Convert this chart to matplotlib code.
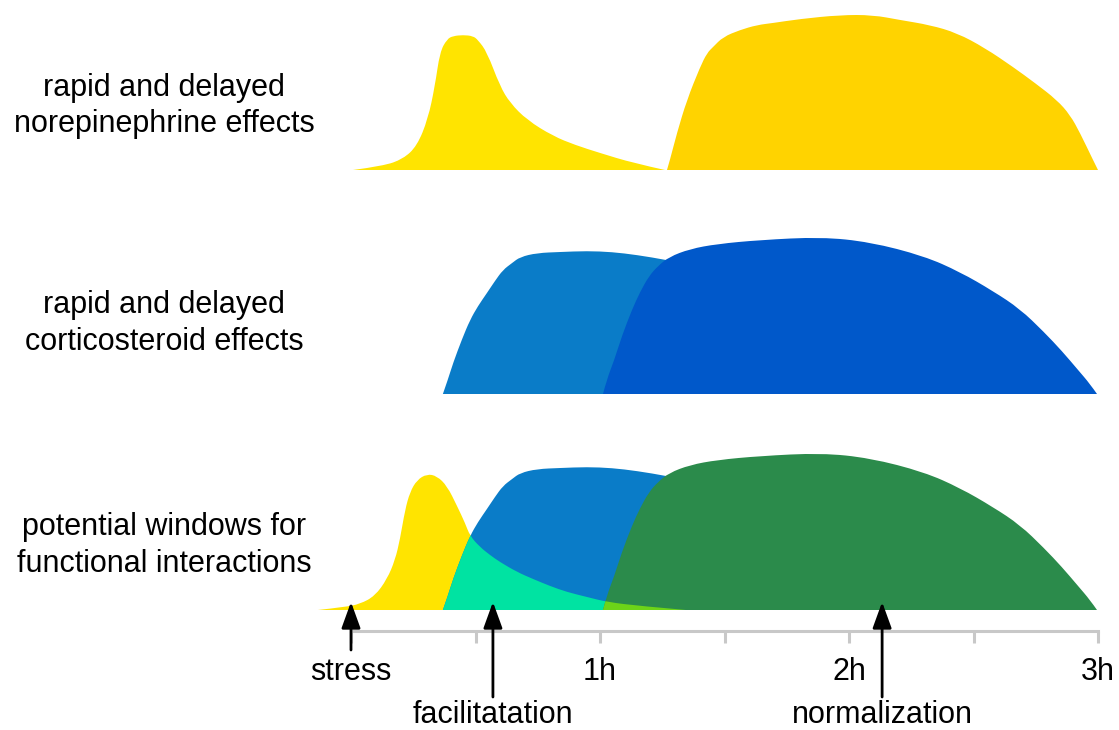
import matplotlib
matplotlib.use('Agg')
import matplotlib.pyplot as plt
from matplotlib.path import Path
from matplotlib.patches import PathPatch

plt.rcParams['font.family'] = ['Liberation Sans', 'DejaVu Sans']

# ---------------- data (time in hours, height in arbitrary units) ----------------
# rapid norepinephrine effect (row 1)
ne_rapid_t = [0.008, 0.129, 0.209, 0.265, 0.309, 0.337, 0.357, 0.386, 0.410, 0.450,
              0.490, 0.510, 0.546, 0.598, 0.639, 0.707, 0.811, 0.900, 1.000, 1.133, 1.261]
ne_rapid_h = [0, 4, 11, 24, 51, 84, 118, 131, 134, 135,
              134, 130, 118, 84, 67, 50, 34, 25, 17, 7, 0]

# delayed norepinephrine effect (row 1)
ne_delayed_t = [1.269, 1.281, 1.309, 1.349, 1.402, 1.430, 1.454, 1.494, 1.562, 1.631,
                1.695, 1.803, 1.964, 2.096, 2.205, 2.325, 2.434, 2.546, 2.659, 2.747,
                2.835, 2.888, 2.928, 2.980, 3.000]
ne_delayed_h = [0, 10, 37, 70, 103, 117, 123, 133, 140, 145,
                147, 151, 155, 155, 150, 145, 137, 122, 103, 87,
                70, 55, 37, 10, 0]

# rapid corticosteroid effect (rows 2 and 3)
cort_rapid_t = [0.369, 0.390, 0.410, 0.446, 0.478, 0.510, 0.546, 0.578, 0.610, 0.647,
                0.679, 0.747, 0.839, 0.948, 1.048, 1.149, 1.269, 1.402, 1.602, 1.803,
                2.004, 2.205, 2.365]
cort_rapid_h = [0, 15, 31, 55, 74, 88, 101, 113, 124, 131,
                137, 141, 142, 143, 142, 139, 134, 127, 112, 90,
                62, 30, 0]

# delayed corticosteroid effect (rows 2 and 3)
cort_delayed_t = [1.012, 1.028, 1.056, 1.088, 1.128, 1.161, 1.197, 1.233, 1.277, 1.361,
                  1.470, 1.643, 1.888, 2.084, 2.301, 2.446, 2.578, 2.687, 2.783, 2.855,
                  2.920, 2.968, 2.996]
cort_delayed_h = [0, 15, 33, 58, 84, 102, 118, 128, 137, 145,
                  150, 154, 157, 152, 138, 122, 103, 85, 62, 43,
                  24, 10, 0]

# rapid norepinephrine window in the interaction row (row 3)
ne_window_t = [-0.133, -0.024, 0.036, 0.096, 0.145, 0.177, 0.197, 0.217, 0.237, 0.265,
               0.305, 0.345, 0.386, 0.426, 0.458, 0.478, 0.518, 0.558, 0.598, 0.667,
               0.731, 0.799, 0.867, 0.948, 1.028, 1.161, 1.345]
ne_window_h = [0, 3, 6, 14, 31, 50, 71, 100, 118, 130,
               136, 134, 124, 104, 87, 74, 63, 55, 48, 38,
               31, 24, 18, 13, 8, 4, 0]

row_labels = [("rapid and delayed", "norepinephrine effects"),
              ("rapid and delayed", "corticosteroid effects"),
              ("potential windows for", "functional interactions")]

tick_times = [0, 0.5, 1, 1.5, 2, 2.5, 3]
tick_labels = ['stress', '', '1h', '', '2h', '', '3h']

marker_times = [0.570, 2.133]
marker_labels = ['facilitatation', 'normalization']

# ---------------- colours ----------------
C_YEL = '#FFE400'
C_YEL2 = '#FFD300'
C_LBLUE = '#0A7CC8'
C_DBLUE = '#0058CA'
C_GREEN = '#2B8B4B'
C_MINT = '#00E3A2'
C_LIME = '#6CD418'
C_AXIS = '#C8C8C8'

# ---------------- layout ----------------
W, H = 1119, 730
fig = plt.figure(figsize=(W / 100, H / 100), dpi=100)

x0_px, x3_px = 351, 1098
px_per_h = (x3_px - x0_px) / 3.0
xlim = (-x0_px / px_per_h, (W - x0_px) / px_per_h)

baselines = [170, 394, 610]
row_h = 170


def row_axes(base):
    ax = fig.add_axes([0, (H - base) / H, 1, row_h / H])
    ax.set_xlim(*xlim)
    ax.set_ylim(0, row_h)
    ax.axis('off')
    return ax


def smooth_shape(ax, t, h, color):
    """Closed shape whose outline is a smooth quadratic-Bezier curve guided by the profile points."""
    pts = list(zip(t, h))
    verts = [pts[0]]
    codes = [Path.MOVETO]
    for i in range(1, len(pts) - 1):
        nxt = pts[i + 1]
        mid = ((pts[i][0] + nxt[0]) / 2, (pts[i][1] + nxt[1]) / 2)
        if i == len(pts) - 2:
            mid = nxt
        verts += [pts[i], mid]
        codes += [Path.CURVE3, Path.CURVE3]
    verts.append(pts[0])
    codes.append(Path.CLOSEPOLY)
    patch = PathPatch(Path(verts, codes), facecolor=color, edgecolor='none', lw=0)
    ax.add_patch(patch)
    return patch


# row 1
ax1 = row_axes(baselines[0])
smooth_shape(ax1, ne_rapid_t, ne_rapid_h, C_YEL)
smooth_shape(ax1, ne_delayed_t, ne_delayed_h, C_YEL2)

# row 2
ax2 = row_axes(baselines[1])
smooth_shape(ax2, cort_rapid_t, cort_rapid_h, C_LBLUE)
smooth_shape(ax2, cort_delayed_t, cort_delayed_h, C_DBLUE)

# row 3
ax3 = row_axes(baselines[2])
smooth_shape(ax3, ne_window_t, ne_window_h, C_YEL)
blue3 = smooth_shape(ax3, cort_rapid_t, cort_rapid_h, C_LBLUE)
mint = smooth_shape(ax3, ne_window_t, ne_window_h, C_MINT)
mint.set_clip_path(blue3)
green3 = smooth_shape(ax3, cort_delayed_t, cort_delayed_h, C_GREEN)
lime = smooth_shape(ax3, ne_window_t, ne_window_h, C_LIME)
lime.set_clip_path(green3)

# time axis
axis_py = 631
axt = fig.add_axes([x0_px / W, (H - axis_py) / H, (x3_px - x0_px) / W, 0.5 / H])
axt.set_xlim(0, 3)
axt.set_ylim(0, 1)
for s in ['top', 'left', 'right']:
    axt.spines[s].set_visible(False)
axt.spines['bottom'].set_color(C_AXIS)
axt.spines['bottom'].set_linewidth(2.2)
axt.set_yticks([])
axt.set_xticks(tick_times)
axt.set_xticklabels(tick_labels, fontsize=22)
axt.tick_params(axis='x', direction='out', length=8.6, width=2.2, color=C_AXIS,
                pad=10, labelcolor='black')
axt.patch.set_visible(False)

# arrows
arrow_props = dict(arrowstyle='-|>,head_length=0.8,head_width=0.29', lw=2,
                   color='black', shrinkA=0, shrinkB=0, mutation_scale=20)
tip_py = 602
axt.annotate('', xy=(0, H - tip_py), xytext=(0, H - 650),
             xycoords=('data', 'figure pixels'), textcoords=('data', 'figure pixels'),
             arrowprops=arrow_props, annotation_clip=False)
for t, lab in zip(marker_times, marker_labels):
    axt.annotate('', xy=(t, H - tip_py), xytext=(t, H - 697),
                 xycoords=('data', 'figure pixels'), textcoords=('data', 'figure pixels'),
                 arrowprops=arrow_props, annotation_clip=False)
    axt.annotate(lab, xy=(t, H - 723), xycoords=('data', 'figure pixels'),
                 ha='center', va='baseline', fontsize=22, annotation_clip=False)

# row labels
label_x = 164
line_baselines = [(96, 132), (313, 350), (535, 572)]
for (l1, l2), (b1, b2) in zip(row_labels, line_baselines):
    fig.text(label_x / W, 1 - b1 / H, l1, ha='center', va='baseline', fontsize=22)
    fig.text(label_x / W, 1 - b2 / H, l2, ha='center', va='baseline', fontsize=22)

fig.savefig('out.png', dpi=100)
